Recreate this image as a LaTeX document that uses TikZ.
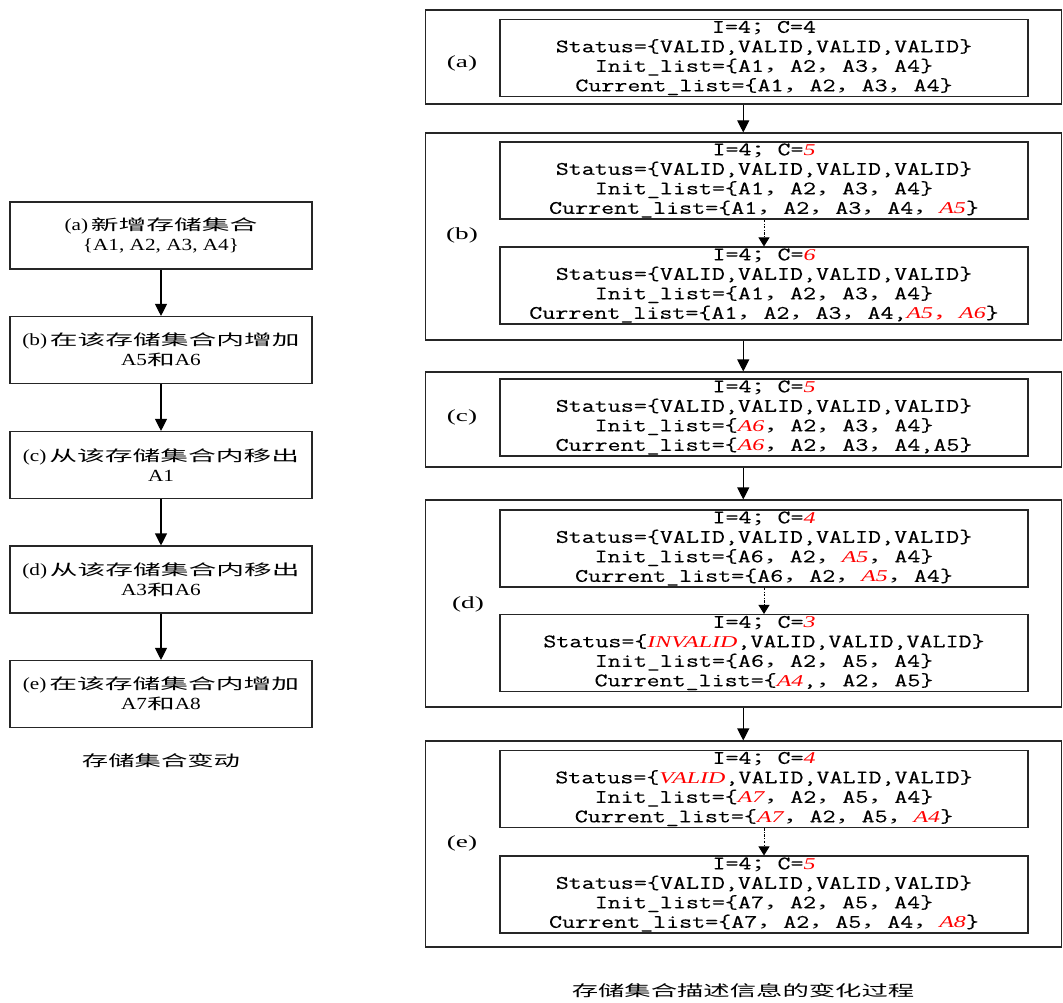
\documentclass[tikz,border=0pt]{standalone}
\usepackage{fontspec}
\setmainfont{Latin Modern Mono}[FakeStretch=1.33, FakeBold=0.35]
\newfontfamily\cjk{Noto Sans CJK SC}[FakeStretch=1.733]
\newfontfamily\lcjk{Noto Sans CJK SC}[FakeStretch=1.85]
\newfontfamily\lserif{Liberation Serif}[FakeStretch=1.25]
\newfontfamily\tagfont{Liberation Serif}[FakeStretch=1.6]
\newfontfamily\hlfont{Liberation Serif}[FakeStretch=1.45]
\usetikzlibrary{arrows.meta}
% full-width punctuation and red italic changes
\newcommand\fc{{\cjk\fontsize{15}{19.5}\selectfont ，}}
\newcommand\fsc{{\cjk\fontsize{15}{19.5}\selectfont ；}}
\newcommand\hl[1]{{\color{red}\hlfont\fontsize{16.5}{19.5}\selectfont\itshape #1}}
\newcommand\hlfc{{\color{red}\cjk\fontsize{15}{19.5}\selectfont ，}}
% Latin text in the left column
\newcommand\lt[1]{{\lserif\fontsize{17}{20}\selectfont #1}}
\tikzset{
  frame/.style={draw=black!85, line width=1.1pt, inner sep=0pt},
  outerbox/.style={frame, minimum width=636pt},
  infobox/.style={frame, minimum width=528pt, minimum height=77pt, align=center,
    font=\fontsize{19}{19.5}\selectfont},
  stepbox/.style={frame, minimum width=302pt, minimum height=67pt, align=center,
    font=\fontsize{15}{20}\selectfont\lcjk},
  tag/.style={font=\fontsize{17}{18}\selectfont\tagfont},
  caption/.style={font=\fontsize{15.2}{18}\selectfont\cjk},
  arr/.style={line width=1.1pt, -{Triangle[length=12pt,width=12pt]}},
  dotarr/.style={line width=0.9pt, dash pattern=on 2.5pt off 1.5pt on 0.8pt off 1.5pt,
    -{Triangle[length=9pt,width=11pt]}}
}
\begin{document}
\begin{tikzpicture}[x=1pt,y=-1pt]
\useasboundingbox (0,0) rectangle (1063,1003);

% ---- left column: operations on the storage set ----
\node[stepbox] (la) at (161,235.5) {\lt{(a)\,}新增存储集合\\\lt{\{A1, A2, A3, A4\}}};
\node[stepbox] (lb) at (161,350) {\lt{(b)\,}在该存储集合内增加\\\lt{A5}和\lt{A6}};
\node[stepbox] (lc) at (161,465) {\lt{(c)\,}从该存储集合内移出\\\lt{A1}};
\node[stepbox] (ld) at (161,579.5) {\lt{(d)\,}从该存储集合内移出\\\lt{A3}和\lt{A6}};
\node[stepbox] (le) at (161,694) {\lt{(e)\,}在该存储集合内增加\\\lt{A7}和\lt{A8}};
\draw[arr] (la) -- (lb);
\draw[arr] (lb) -- (lc);
\draw[arr] (lc) -- (ld);
\draw[arr] (ld) -- (le);
\node[caption] (lcap) at (161,761) {存储集合变动};

% ---- right column: descriptor contents ----
\node[outerbox, minimum height=94pt] (oa) at (743.25,57) {};
\node[outerbox, minimum height=207pt] (ob) at (743.25,236.5) {};
\node[outerbox, minimum height=95pt] (oc) at (743.25,419.5) {};
\node[outerbox, minimum height=207pt] (od) at (743.25,603.5) {};
\node[outerbox, minimum height=206pt] (oe) at (743.25,844) {};

\node[tag] (ta) at (462,63) {(a)};
\node[tag] (tb) at (462,235) {(b)};
\node[tag] (tc) at (462,417) {(c)};
\node[tag] (td) at (468,604) {(d)};
\node[tag] (te) at (462,843) {(e)};

\node[infobox] (ia) at (764,58) {I=4\fsc C=4\\
  Status=\{VALID,VALID,VALID,VALID\}\\
  Init\_list=\{A1\fc A2\fc A3\fc A4\}\\
  Current\_list=\{A1\fc A2\fc A3\fc A4\}};

\node[infobox] (ib1) at (764,180.5) {I=4\fsc C=\hl{5}\\
  Status=\{VALID,VALID,VALID,VALID\}\\
  Init\_list=\{A1\fc A2\fc A3\fc A4\}\\
  Current\_list=\{A1\fc A2\fc A3\fc A4\fc \hl{A5}\}};
\node[infobox] (ib2) at (764,285.5) {I=4\fsc C=\hl{6}\\
  Status=\{VALID,VALID,VALID,VALID\}\\
  Init\_list=\{A1\fc A2\fc A3\fc A4\}\\
  Current\_list=\{A1\fc A2\fc A3\fc A4,\hl{A5}\hlfc \hl{A6}\}};

\node[infobox] (ic) at (764,417.5) {I=4\fsc C=\hl{5}\\
  Status=\{VALID,VALID,VALID,VALID\}\\
  Init\_list=\{\hl{A6}\fc A2\fc A3\fc A4\}\\
  Current\_list=\{\hl{A6}\fc A2\fc A3\fc A4,A5\}};

\node[infobox] (id1) at (764,548.5) {I=4\fsc C=\hl{4}\\
  Status=\{VALID,VALID,VALID,VALID\}\\
  Init\_list=\{A6\fc A2\fc \hl{A5}\fc A4\}\\
  Current\_list=\{A6\fc A2\fc \hl{A5}\fc A4\}};
\node[infobox] (id2) at (764,653) {I=4\fsc C=\hl{3}\\
  Status=\{\hl{INVALID},VALID,VALID,VALID\}\\
  Init\_list=\{A6\fc A2\fc A5\fc A4\}\\
  Current\_list=\{\hl{A4},\fc A2\fc A5\}};

\node[infobox] (ie1) at (764,789) {I=4\fsc C=\hl{4}\\
  Status=\{\hl{VALID},VALID,VALID,VALID\}\\
  Init\_list=\{\hl{A7}\fc A2\fc A5\fc A4\}\\
  Current\_list=\{\hl{A7}\fc A2\fc A5\fc \hl{A4}\}};
\node[infobox] (ie2) at (764,894.5) {I=4\fsc C=\hl{5}\\
  Status=\{VALID,VALID,VALID,VALID\}\\
  Init\_list=\{A7\fc A2\fc A5\fc A4\}\\
  Current\_list=\{A7\fc A2\fc A5\fc A4\fc \hl{A8}\}};

\draw[arr] (oa) -- (ob);
\draw[arr] (ob) -- (oc);
\draw[arr] (oc) -- (od);
\draw[arr] (od) -- (oe);
\draw[dotarr] (ib1) -- (ib2);
\draw[dotarr] (id1) -- (id2);
\draw[dotarr] (ie1) -- (ie2);

\node[caption] (rcap) at (743,991) {存储集合描述信息的变化过程};
\end{tikzpicture}
\end{document}
